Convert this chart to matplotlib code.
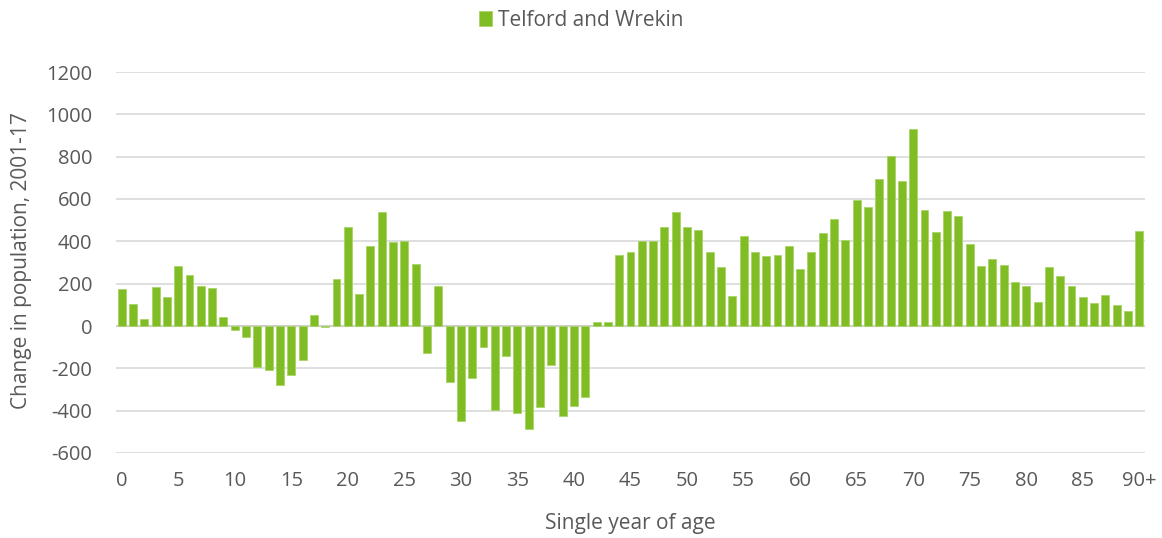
import matplotlib
matplotlib.use("Agg")
import matplotlib.pyplot as plt
import numpy as np

plt.rcParams['font.family'] = ['Open Sans', 'DejaVu Sans']

ages = list(range(91))
age_labels = [str(a) if a % 5 == 0 else "" for a in ages]
age_labels[90] = "90+"

change = [
    173, 102, 33, 183, 135, 285, 243, 187, 180, 44,
    -17, -52, -195, -206, -280, -230, -161, 54, -3, 222,
    469, 151, 380, 537, 395, 403, 291, -129, 191, -265,
    -447, -246, -99, -397, -142, -410, -487, -384, -184, -425,
    -380, -335, 19, 19, 335, 348, 400, 400, 469, 537,
    469, 455, 350, 279, 142, 425, 348, 332, 334, 380,
    271, 348, 438, 506, 405, 595, 561, 693, 802, 685,
    932, 550, 444, 543, 518, 386, 285, 317, 288, 209,
    187, 115, 279, 238, 187, 139, 107, 148, 99, 71,
    450,
]
series_name = "Telford and Wrekin"
x_title = "Single year of age"
y_title = "Change in population, 2001-17"
y_ticks = list(range(-600, 1201, 200))

W, H = 1162, 538
fig = plt.figure(figsize=(W/100, H/100), dpi=100)
ax = fig.add_axes([116/W, 1 - 453/H, (1145-116)/W, (453-72)/H])

bar_color = "#80BC24"
ax.bar(ages, change, width=0.70, color=bar_color, edgecolor="#A9D466",
       linewidth=0.6, label=series_name, zorder=3)

ax.set_xlim(-0.5, 90.5)
ax.set_ylim(-600, 1200)
ax.set_yticks(y_ticks)
ax.set_yticklabels([str(v) for v in y_ticks])
ax.yaxis.grid(True, color="#D9D9D9", linewidth=1.2, zorder=0)
ax.axhline(0, color="#D0D0D0", linewidth=1.5, zorder=2)

ax.set_xticks(ages)
ax.set_xticklabels(age_labels)
ax.tick_params(axis='x', length=0, pad=13, labelsize=14.5, labelcolor="#595959")
ax.tick_params(axis='y', length=0, pad=17, labelsize=14.5, labelcolor="#595959")

for s in ax.spines.values():
    s.set_visible(False)

fig.text(0.5 * (116 + 1145) / W, 1 - 523/H, x_title, fontsize=15, color="#595959",
         ha="center", va="center")
fig.text(22/W, 1 - 261/H, y_title, fontsize=15, color="#595959",
         ha="center", va="center", rotation=90)

fig.legend(loc="center", bbox_to_anchor=(0.5, 1 - 20/H), frameon=False,
           fontsize=15, handlelength=0.62, handleheight=0.72, handletextpad=0.3,
           labelcolor="#595959", borderpad=0)

fig.savefig("out.png", dpi=100)
